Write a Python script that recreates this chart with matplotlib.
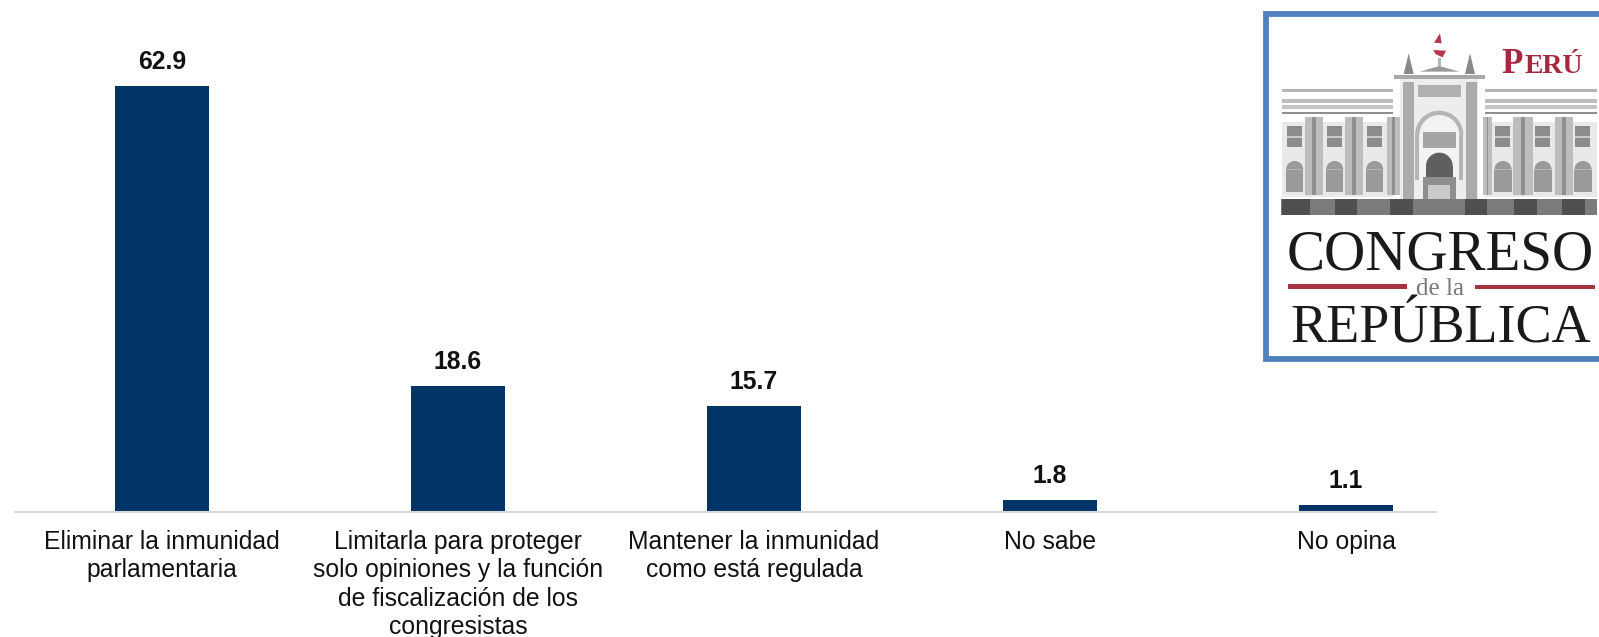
import matplotlib
matplotlib.use("Agg")
import matplotlib.pyplot as plt
from matplotlib.patches import Rectangle, Polygon, Wedge

plt.rcParams['font.family'] = ['Liberation Sans', 'DejaVu Sans']

categories = ["Eliminar la inmunidad\nparlamentaria",
              "Limitarla para proteger\nsolo opiniones y la función\nde fiscalización de los\ncongresistas",
              "Mantener la inmunidad\ncomo está regulada",
              "No sabe",
              "No opina"]
values = [62.9, 18.6, 15.7, 1.8, 1.1]
value_labels = ["62.9", "18.6", "15.7", "1.8", "1.1"]

W, H = 1599, 637
BAR = "#003366"
fig = plt.figure(figsize=(W / 100, H / 100), dpi=100, facecolor="white")

# Chart area: baseline at y=512 px, spans x=15..1436 px
ax = fig.add_axes([15 / W, (H - 512) / H, (1436 - 15) / W, 512 / H])
ax.bar(range(len(values)), values, width=0.318, color=BAR)
ax.set_xlim(-0.4966, 4.304)
ax.set_ylim(0, 512 / 6.78)
for s in ("top", "left", "right"):
    ax.spines[s].set_visible(False)
ax.spines["bottom"].set_color("#D9D9D9")
ax.spines["bottom"].set_linewidth(1.5)
ax.set_yticks([])
ax.set_xticks(range(len(values)))
ax.set_xticklabels(categories, fontsize=17.8, color="#111111", linespacing=1.23)
ax.tick_params(axis="x", length=0, pad=13)
for i, (v, t) in enumerate(zip(values, value_labels)):
    ax.annotate(t, (i, v), xytext=(0, 11.5), textcoords="offset pixels", ha="center",
                va="bottom", fontsize=17.8, fontweight="bold", color="#111111")

# Logo, drawn in its own axes (units: 3 per pixel)
lg = fig.add_axes([1250 / W, (H - 370) / H, 349 / W, 370 / H])
lg.set_xlim(0, 1047)
lg.set_ylim(1110, 0)
lg.axis("off")
lg.patch.set_alpha(0)

def rect(x0, y0, x1, y1, c, **kw):
    lg.add_patch(Rectangle((x0, y0), x1 - x0, y1 - y0, facecolor=c, edgecolor="none", **kw))

def arched(x0, x1, top, bottom, c):
    r = (x1 - x0) / 2
    lg.add_patch(Wedge(((x0 + x1) / 2, top + r), r, 180, 360, facecolor=c, edgecolor="none"))
    rect(x0, top + r, x1, bottom, c)

# border
lg.add_patch(Rectangle((48, 41), 1100, 1037, facecolor="white", edgecolor="#4F81BD",
                       linewidth=4.2, clip_on=True))

# cornices
for x0, x1 in [(95, 430), (705, 1040)]:
    rect(x0, 267, x1, 276, "#B5B5B5")
    rect(x0, 298, x1, 308, "#BDBDBD")
    rect(x0, 315, x1, 326, "#C4C4C4")
    rect(x0, 335, x1, 343, "#8F8F8F")
    rect(x0, 365, x1, 590, "#E9E9E9")

# wing windows
for x in [110, 230, 350, 735, 855, 975]:
    rect(x, 378, x + 45, 440, "#8C8C8C")
    rect(x, 408, x + 45, 413, "#C8C8C8")
    arched(x - 2, x + 50, 483, 575, "#9A9A9A")

# wing columns
for x0, x1 in [(165, 220), (285, 340), (410, 450), (700, 725), (790, 850), (915, 970)]:
    rect(x0, 352, x1, 585, "#BDBDBD")
    rect(x0 + (x1 - x0) * 0.4, 352, x0 + (x1 - x0) * 0.6, 585, "#8F8F8F")

# central pavilion
rect(450, 235, 685, 600, "#EDEDED")
rect(432, 225, 705, 238, "#A8A8A8")
rect(505, 255, 632, 290, "#B0B0B0")
rect(458, 245, 492, 600, "#ABABAB")
rect(648, 245, 680, 600, "#ABABAB")
lg.add_patch(Polygon([(510, 215), (568, 198), (628, 215)], facecolor="#9A9A9A"))
for x in (476, 660):
    lg.add_patch(Polygon([(x - 15, 222), (x, 160), (x + 15, 222)], facecolor="#8A8A8A"))
arched(495, 640, 332, 540, "#B5B5B5")
arched(508, 628, 345, 540, "#F2F2F2")
rect(520, 395, 618, 445, "#A5A5A5")
arched(528, 608, 458, 530, "#5F5F5F")
rect(520, 530, 618, 600, "#8E8E8E")
rect(535, 555, 600, 618, "#C9C9C9")

# base band with darker blocks
rect(92, 597, 1040, 645, "#7B7B7B")
for x0, x1 in [(95, 180), (255, 322), (420, 490), (645, 712), (792, 862), (937, 1005)]:
    rect(x0, 597, x1, 645, "#4F4F4F")

# flag
lg.add_patch(Polygon([(552, 128), (570, 100), (575, 130)], facecolor="#B5384A"))
lg.add_patch(Polygon([(550, 150), (588, 152), (578, 172), (556, 162)], facecolor="#B5384A"))
rect(565, 175, 572, 198, "#A9C0A9")

# lettering
lg.text(755, 220, "P", family="Liberation Serif", fontsize=25, color="#A6283E", va="baseline", fontweight="bold")
lg.text(824, 220, "ERÚ", family="Liberation Serif", fontsize=20, color="#A6283E", va="baseline", fontweight="bold")
lg.text(572, 808, "CONGRESO", family="Liberation Serif", fontsize=41, color="#1A1A1A",
        ha="center", va="baseline")
lg.text(572, 1027, "REPÚBLICA", family="Liberation Serif", fontsize=39, color="#1A1A1A",
        ha="center", va="baseline")
lg.text(570, 884, "de la", family="Liberation Serif", fontsize=18, color="#777777",
        ha="center", va="baseline")
rect(115, 853, 470, 866, "#A8323F")
rect(675, 855, 1035, 868, "#A8323F")

fig.savefig("out.png", dpi=100, facecolor="white")
